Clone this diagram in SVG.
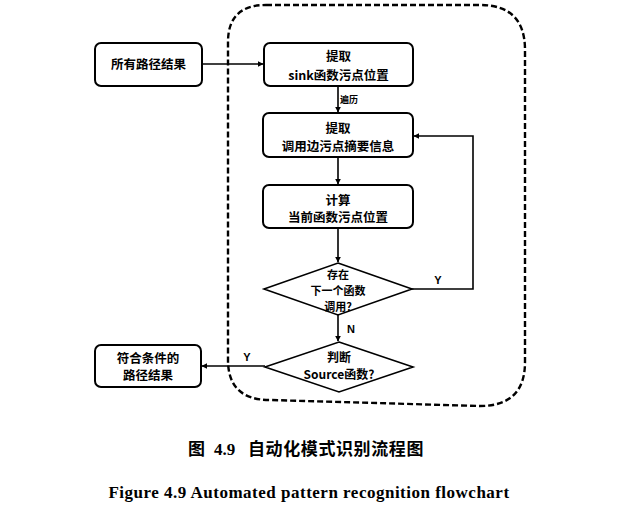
<svg xmlns="http://www.w3.org/2000/svg" width="633" height="507" viewBox="0 0 633 507">
<defs>
<marker id="ah" viewBox="0 0 10 10" refX="9" refY="5" markerWidth="6" markerHeight="6" markerUnits="userSpaceOnUse" orient="auto"><path d="M0,0 L10,5 L0,10 Z" fill="#000"/></marker>
<style>
.box{fill:#fff;stroke:#000;stroke-width:2}
.dia{fill:#fff;stroke:#000;stroke-width:1.6}
.t{font-family:"Noto Sans CJK SC","Liberation Sans",sans-serif;font-weight:bold;font-size:12.5px;fill:#000;text-anchor:middle}
.d{font-size:11px}
.s{font-family:"Liberation Sans","Noto Sans CJK SC",sans-serif;font-weight:bold;font-size:11px;fill:#000;text-anchor:middle}
.ln{fill:none;stroke:#000;stroke-width:1.6}
.cap{font-family:"Noto Sans CJK SC","Liberation Serif",serif;font-weight:bold;font-size:17px;fill:#000}
</style>
</defs>
<rect width="633" height="507" fill="#fff"/>
<path id="container" d="M 266 5 L 480 5 Q 525 5 525 50 L 525 362 Q 525 406 480 406 L 270 400 Q 228 400 228 360 L 228 42 Q 228 5 266 5 Z" fill="none" stroke="#000" stroke-width="2.4" stroke-dasharray="6 3"/>
<g id="connectors">
<line class="ln" x1="202" y1="64" x2="263" y2="64" marker-end="url(#ah)"/>
<line class="ln" x1="338" y1="86" x2="338" y2="112" marker-end="url(#ah)"/>
<line class="ln" x1="338" y1="157" x2="338" y2="184" marker-end="url(#ah)"/>
<line class="ln" x1="338" y1="228" x2="338" y2="262" marker-end="url(#ah)"/>
<polyline class="ln" points="412,289 473,289 473,136 414,136" marker-end="url(#ah)"/>
<line class="ln" x1="338" y1="315" x2="338" y2="341" marker-end="url(#ah)"/>
<line class="ln" x1="265" y1="366" x2="202" y2="366" marker-end="url(#ah)"/>
<text class="t" x="349" y="103" style="font-size:9px">遍历</text>
<text class="s" x="438" y="284">Y</text>
<text class="s" x="351" y="333">N</text>
<text class="s" x="247" y="361">Y</text>
</g>
<g id="all-paths">
<rect class="box" x="95" y="43" width="107" height="43" rx="6"/>
<text class="t" x="148.5" y="68.5">所有路径结果</text>
</g>
<g id="extract-sink">
<rect class="box" x="264" y="43" width="149" height="43" rx="6"/>
<text class="t" x="338.5" y="60.5">提取</text>
<text class="t" x="338.5" y="80">sink函数污点位置</text>
</g>
<g id="extract-summary">
<rect class="box" x="263" y="113" width="150" height="44" rx="6"/>
<text class="t" x="338" y="132.5">提取</text>
<text class="t" x="338" y="151">调用边污点摘要信息</text>
</g>
<g id="compute">
<rect class="box" x="263" y="185" width="150" height="43" rx="6"/>
<text class="t" x="338" y="204.5">计算</text>
<text class="t" x="338" y="222">当前函数污点位置</text>
</g>
<g id="next-call">
<polygon class="dia" points="338,263 412,289 338,315 264,289"/>
<text class="t d" x="338" y="279">存在</text>
<text class="t d" x="338" y="295">下一个函数</text>
<text class="t d" x="338" y="311">调用?</text>
</g>
<g id="is-source">
<polygon class="dia" points="339,342 413,367 339,392 265,367"/>
<text class="t" x="339" y="362" style="font-size:12px">判断</text>
<text class="t" x="339" y="379" style="font-size:12px">Source函数?</text>
</g>
<g id="result">
<rect class="box" x="95" y="345" width="106" height="42" rx="6"/>
<text class="t" x="148" y="362.5">符合条件的</text>
<text class="t" x="148" y="380">路径结果</text>
</g>
<g id="caption">
<text class="cap" x="188" y="455">图</text>
<text class="cap" x="214" y="455" style="font-family:'Liberation Serif',serif">4.9</text>
<text class="cap" x="248" y="455" style="letter-spacing:0.6px">自动化模式识别流程图</text>
<text x="309" y="498" style="font-family:'Liberation Serif',serif;font-weight:bold;font-size:17px;letter-spacing:0.5px;text-anchor:middle">Figure 4.9 Automated pattern recognition flowchart</text>
</g>
</svg>
